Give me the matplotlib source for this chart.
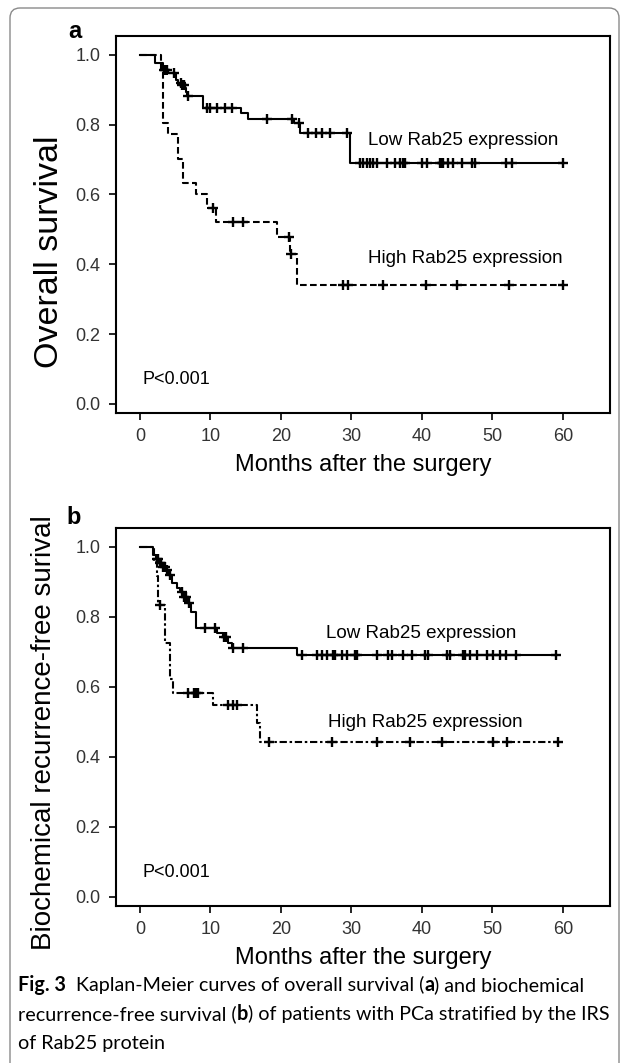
import numpy as np
import matplotlib
matplotlib.use("Agg")
import matplotlib.pyplot as plt
from matplotlib.patches import FancyBboxPatch

# ---- panel a: overall survival (times in months, survival after each step)
a_low_t = [0, 2.1, 3.3, 4.0, 5.1, 5.4, 5.9, 6.4, 6.5, 6.7, 9.0, 14.4, 15.3, 21.8, 22.7, 29.8]
a_low_s = [1.0, 0.978, 0.957, 0.947, 0.928, 0.92, 0.914, 0.904, 0.895, 0.883, 0.848, 0.834, 0.817, 0.805, 0.777, 0.69]
a_low_cens = [3.4, 3.6, 3.8, 4.8, 5.8, 6.0, 6.3, 6.8, 9.5, 10.0, 11.0, 12.0, 13.0, 18.0, 21.6,
              22.6, 23.9, 25.0, 25.8, 26.9, 29.4, 31.2, 31.6, 32.2, 32.6, 33.0, 33.6, 35.0, 36.2,
              36.9, 37.3, 37.6, 40.0, 40.7, 42.6, 42.8, 43.0, 43.7, 44.4, 45.7, 47.1, 47.5, 52.0,
              52.8, 60.0]
a_high_t = [0, 3.0, 3.3, 4.0, 5.4, 6.1, 8.0, 9.5, 10.8, 19.4, 21.25, 22.3]
a_high_s = [1.0, 0.957, 0.805, 0.774, 0.702, 0.633, 0.60, 0.562, 0.522, 0.479, 0.43, 0.341]
a_high_cens = [10.3, 13.2, 14.6, 21.1, 21.5, 28.8, 29.5, 34.5, 40.6, 45.0, 52.3, 60.0]

# ---- panel b: biochemical recurrence-free survival
b_low_t = [0, 1.9, 2.3, 2.7, 3.2, 3.6, 4.0, 4.5, 5.2, 5.7, 6.2, 6.7, 7.2, 8.0, 10.9, 11.8, 12.5, 13.0, 22.3]
b_low_s = [1.0, 0.977, 0.966, 0.955, 0.944, 0.933, 0.92, 0.897, 0.884, 0.871, 0.857, 0.84, 0.814,
           0.769, 0.754, 0.743, 0.726, 0.711, 0.691]
b_low_cens = [2.4, 2.6, 2.8, 3.0, 3.3, 3.5, 3.8, 4.2, 5.9, 6.3, 6.5, 6.9, 9.2, 10.6, 11.9, 12.2,
              13.2, 14.6, 23.0, 25.1, 25.8, 26.5, 27.4, 27.7, 28.7, 29.4, 30.5, 30.8, 33.6, 35.2,
              35.7, 37.3, 38.6, 40.4, 40.9, 43.5, 44.0, 45.8, 46.1, 46.8, 47.8, 49.2, 50.1, 51.1,
              52.0, 53.3, 59.1]
b_high_t = [0, 2.0, 2.4, 2.6, 3.5, 4.3, 4.7, 10.3, 16.6, 17.0]
b_high_s = [1.0, 0.958, 0.917, 0.834, 0.726, 0.623, 0.583, 0.548, 0.497, 0.443]
b_high_cens = [2.8, 6.8, 7.6, 7.9, 8.2, 12.5, 13.2, 13.7, 18.3, 27.2, 33.6, 38.3, 42.8, 50.1, 52.1, 59.3]

x_ticks = [0, 10, 20, 30, 40, 50, 60]
y_ticks = [0.0, 0.2, 0.4, 0.6, 0.8, 1.0]

W, H = 627, 1063
fig = plt.figure(figsize=(W / 100, H / 100), dpi=100)


def fx(x):
    return x / W


def fy(y):
    return 1 - y / H


# rounded frame around the figure
bg = fig.add_axes([0, 0, 1, 1], zorder=-5)
bg.set_xlim(0, W)
bg.set_ylim(H, 0)
bg.axis("off")
bg.add_patch(FancyBboxPatch((10, 8), 609, 1200, boxstyle="round,pad=0,rounding_size=10",
                            fc="white", ec="#8a8a8a", lw=1.0))

tick_font = dict(family="Liberation Sans", size=13, color="#333333")


def km(ax, t, s, cens, dashes):
    tt = list(t) + [max(cens)]
    ss = list(s) + [s[-1]]
    line, = ax.step(tt, ss, where="post", color="black", lw=1.5)
    if dashes is not None:
        line.set_dashes(dashes)
    idx = np.searchsorted(np.array(t), np.array(cens), side="right") - 1
    ax.plot(cens, np.array(s)[idx], ls="none", marker="+", ms=6.5, mew=1.7, color="black")


def setup(ax):
    ax.set_xlim(-3.4, 66.7)
    ax.set_ylim(-0.026, 1.054)
    ax.set_xticks(x_ticks)
    ax.set_yticks(y_ticks)
    ax.set_xticklabels([str(v) for v in x_ticks], **tick_font)
    ax.set_yticklabels(["%.1f" % v for v in y_ticks], **tick_font)
    ax.tick_params(direction="out", length=5, width=1.2, pad=6, color="black")
    for sp in ax.spines.values():
        sp.set_linewidth(1.5)


# panel a
ax1 = fig.add_axes([fx(116), fy(413), fx(610) - fx(116), fy(36) - fy(413)])
setup(ax1)
km(ax1, a_low_t, a_low_s, a_low_cens, None)
km(ax1, a_high_t, a_high_s, a_high_cens, (3.2, 1.6))
ax1.text(32.3, 0.756, "Low Rab25 expression", family="Liberation Sans", size=13.5, va="center")
ax1.text(32.4, 0.418, "High Rab25 expression", family="Liberation Sans", size=13.5, va="center")
ax1.text(0.3, 0.069, "P<0.001", family="Liberation Sans", size=13, va="center")

# panel b
ax2 = fig.add_axes([fx(116), fy(906), fx(610) - fx(116), fy(528) - fy(906)])
setup(ax2)
km(ax2, b_low_t, b_low_s, b_low_cens, None)
km(ax2, b_high_t, b_high_s, b_high_cens, (3.5, 1.3, 1.2, 1.3))
ax2.text(26.4, 0.754, "Low Rab25 expression", family="Liberation Sans", size=13.5, va="center")
ax2.text(26.7, 0.497, "High Rab25 expression", family="Liberation Sans", size=13.5, va="center")
ax2.text(0.3, 0.071, "P<0.001", family="Liberation Sans", size=13, va="center")

# panel letters, axis titles
fig.text(fx(75), fy(32), "a", family="Liberation Sans", weight="bold", size=17, ha="center", va="center")
fig.text(fx(74), fy(517), "b", family="Liberation Sans", weight="bold", size=17, ha="center", va="center")
fig.text(fx(50), fy(252), "Overall survival", family="Liberation Sans", size=24.5,
         rotation=90, ha="center", va="center")
fig.text(fx(44), fy(733), "Biochemical recurrence-free surival", family="Liberation Sans", size=20,
         rotation=90, ha="center", va="center")
fig.text(fx(363), fy(465), "Months after the surgery", family="Liberation Sans", size=17,
         ha="center", va="center")
fig.text(fx(363), fy(958), "Months after the surgery", family="Liberation Sans", size=17,
         ha="center", va="center")

# caption with bold pieces, placed one after another
renderer = fig.canvas.get_renderer()
cap_lines = [
    [("Fig. 3", "bold"), ("  Kaplan-Meier curves of overall survival (", "normal"), ("a", "bold"),
     (") and biochemical", "normal")],
    [("recurrence-free survival (", "normal"), ("b", "bold"),
     (") of patients with PCa stratified by the IRS", "normal")],
    [("of Rab25 protein", "normal")],
]
cap_y = [985, 1014, 1043]
for pieces, yy in zip(cap_lines, cap_y):
    x = 18
    for txt, wt in pieces:
        t = fig.text(fx(x), fy(yy), txt, family="Lato", weight=wt, size=14.2, va="center")
        bb = t.get_window_extent(renderer)
        x += bb.width

fig.savefig("out.png", dpi=100)
